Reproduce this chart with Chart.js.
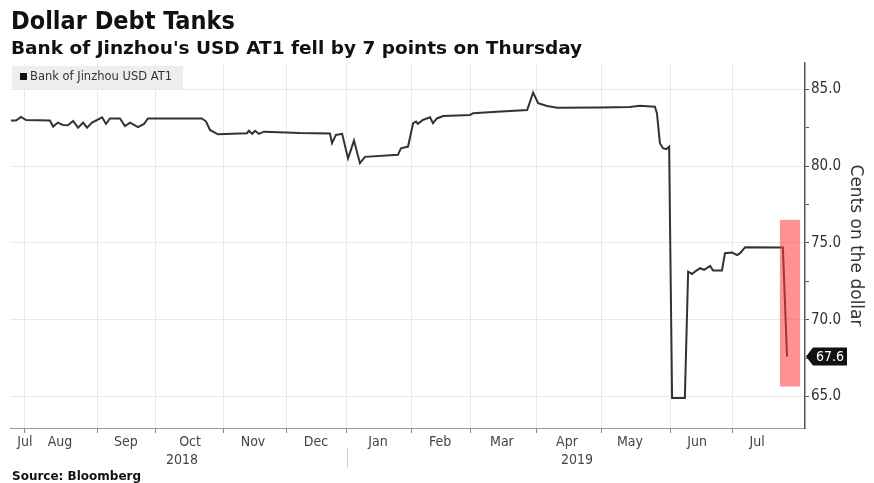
<!DOCTYPE html>
<html><head><meta charset="utf-8">
<script src="https://cdn.jsdelivr.net/npm/chart.js@4.4.1/dist/chart.umd.min.js"></script>
<style>html,body{margin:0;padding:0;background:#fff;overflow:hidden}#wrap{width:874px;height:483px;position:relative}</style>
</head><body><div id="wrap"><canvas id="c" width="874" height="483"></canvas></div>
<script>
// ---- data (x = trading-day index, 0 = 1 Aug 2018) ----
const seriesName = 'Bank of Jinzhou USD AT1';
const tradingDay = [-5.4,-3.7,-2.0,-0.3,7.7,8.8,10.4,12.1,13.8,15.5,17.2,18.9,20.2,21.9,23.6,25.3,26.6,27.9,31.3,33.0,34.7,37.4,39.4,40.7,58.9,60.3,61.6,64.3,74.1,74.7,75.8,76.8,78.1,79.8,91.9,102.0,102.7,104.0,106.1,108.1,110.1,112.1,113.8,124.9,125.9,128.3,130.0,131.0,131.6,133.3,135.7,136.7,138.0,140.1,149.2,150.2,158.2,168.4,170.4,172.1,175.1,178.5,192.9,203.0,206.4,211.4,212.1,213.1,214.1,215.2,216.2,217.2,221.5,222.6,223.9,224.9,226.6,228.0,230.0,231.0,234.0,235.0,237.4,239.1,240.1,241.8,254.5,255.9];
const price = [82.96,82.96,83.2,83.0,82.96,82.57,82.83,82.68,82.66,82.94,82.5,82.83,82.5,82.83,83.0,83.18,82.74,83.1,83.1,82.6,82.83,82.53,82.74,83.1,83.1,82.9,82.35,82.07,82.14,82.3,82.1,82.3,82.1,82.24,82.15,82.12,81.49,82.03,82.1,80.5,81.66,80.19,80.6,80.73,81.16,81.27,82.79,82.9,82.75,83.0,83.18,82.79,83.1,83.26,83.33,83.44,83.54,83.65,84.78,84.09,83.91,83.8,83.82,83.85,83.92,83.87,83.44,81.49,81.16,81.1,81.27,64.9,64.9,73.13,72.98,73.13,73.35,73.25,73.5,73.2,73.2,74.33,74.37,74.2,74.33,74.72,74.7,67.6];
const monthStarts = [-1.0,23.6,43.4,66.3,87.5,107.7,129.3,149.2,171.7,193.6,216.5,237.7];
const monthLabelPos = [-0.7,11.1,33.3,54.9,76.1,97.3,118.2,139.1,159.9,181.8,203.0,225.6,245.8];
const monthLabels = ['Jul','Aug','Sep','Oct','Nov','Dec','Jan','Feb','Mar','Apr','May','Jun','Jul'];
const yearPos = [52.2, 185.2];
const yearLabels = ['2018','2019'];
const yearBreak = 107.7;
const yTicks = [65,67.5,70,72.5,75,77.5,80,82.5,85];
const xRange = [-5.72, 261.95];
const yRange = [62.95, 86.71];
const highlightX = [253.5, 260.3];
const highlightY = [65.65, 76.5];
const lastValue = 67.6;

const FONT = '"DejaVu Sans", Verdana, sans-serif';
const COND = '"DejaVu Sans Condensed", "DejaVu Sans", sans-serif';

const decor = {
  id: 'decor',
  beforeDraw(chart) {
    const c = chart.ctx; c.save(); c.fillStyle = '#fff'; c.fillRect(0, 0, chart.width, chart.height); c.restore();
  },
  beforeDatasetsDraw(chart) {
    const c = chart.ctx; c.save();
    c.fillStyle = '#eeeeee'; c.fillRect(12, 66, 171, 23);
    c.fillStyle = '#111'; c.fillRect(20, 73, 7, 7);
    c.fillStyle = '#333'; c.font = '11.5px ' + FONT; c.textBaseline = 'middle'; c.textAlign = 'left';
    c.fillText(seriesName, 30, 77);
    c.restore();
  },
  afterDatasetsDraw(chart) {
    const c = chart.ctx, xs = chart.scales.x, ys = chart.scales.y; c.save();
    const x0 = xs.getPixelForValue(highlightX[0]), x1 = xs.getPixelForValue(highlightX[1]);
    const y0 = ys.getPixelForValue(highlightY[1]), y1 = ys.getPixelForValue(highlightY[0]);
    c.fillStyle = 'rgba(255,55,55,0.55)'; c.fillRect(x0, y0, x1 - x0, y1 - y0);
    const yv = ys.getPixelForValue(lastValue), ax = chart.chartArea.right + 1;
    c.fillStyle = '#111'; c.beginPath();
    c.moveTo(ax, yv); c.lineTo(ax + 7, yv - 9); c.lineTo(ax + 41, yv - 9); c.lineTo(ax + 41, yv + 9); c.lineTo(ax + 7, yv + 9); c.closePath(); c.fill();
    c.fillStyle = '#fff'; c.font = '14px ' + COND; c.textAlign = 'center'; c.textBaseline = 'middle';
    c.fillText(lastValue.toFixed(1), ax + 24, yv + 1);
    c.restore();
  },
  afterDraw(chart) {
    const c = chart.ctx; c.save();
    c.fillStyle = '#111'; c.textAlign = 'left'; c.textBaseline = 'alphabetic';
    c.font = 'bold 25px ' + COND; c.fillText('Dollar Debt Tanks', 11, 29);
    c.font = 'bold 18.5px ' + FONT; c.fillText("Bank of Jinzhou's USD AT1 fell by 7 points on Thursday", 11, 54);
    c.font = 'bold 12px ' + FONT; c.fillText('Source: Bloomberg', 12, 480);
    const bx = Math.round(chart.scales.x.getPixelForValue(yearBreak)) + 0.5;
    c.strokeStyle = '#d0d0d0'; c.lineWidth = 1; c.beginPath(); c.moveTo(bx, 448); c.lineTo(bx, 468); c.stroke();
    c.restore();
  }
};

new Chart(document.getElementById('c'), {
  type: 'line',
  data: { datasets: [{
    label: seriesName,
    data: tradingDay.map((d, i) => ({ x: d, y: price[i] })),
    borderColor: '#333', borderWidth: 2, pointRadius: 0, fill: false, tension: 0,
    xAxisID: 'x', yAxisID: 'y'
  }]},
  options: {
    responsive: false, animation: false, devicePixelRatio: 1,
    layout: { padding: { top: 63, left: 10, right: 0, bottom: 0 } },
    plugins: { legend: { display: false }, tooltip: { enabled: false }, title: { display: false } },
    scales: {
      x: {
        type: 'linear', axis: 'x', position: 'bottom', weight: 0, min: xRange[0], max: xRange[1],
        afterBuildTicks: s => { s.ticks = monthStarts.map(v => ({ value: v })); },
        afterFit: s => { s.height = 6; },
        ticks: { callback: () => '', autoSkip: false, maxRotation: 0, padding: 0 },
        grid: { color: '#e9e9e9', lineWidth: 1, drawTicks: true, tickLength: 5, tickColor: '#888', tickWidth: 1 },
        border: { display: true, color: '#999', width: 1 }
      },
      xm: {
        type: 'linear', axis: 'x', position: 'bottom', weight: 1, min: xRange[0], max: xRange[1],
        afterBuildTicks: s => { s.ticks = monthLabelPos.map(v => ({ value: v })); },
        afterFit: s => { s.height = 18; },
        ticks: { callback: (v, i) => monthLabels[i], autoSkip: false, maxRotation: 0, padding: 0, color: '#444', font: { family: COND, size: 14 } },
        grid: { display: false, drawTicks: false }, border: { display: false }
      },
      xy: {
        type: 'linear', axis: 'x', position: 'bottom', weight: 2, min: xRange[0], max: xRange[1],
        afterBuildTicks: s => { s.ticks = yearPos.map(v => ({ value: v })); },
        afterFit: s => { s.height = 31; },
        ticks: { callback: (v, i) => yearLabels[i], autoSkip: false, maxRotation: 0, padding: 0, color: '#444', font: { family: COND, size: 14 } },
        grid: { display: false, drawTicks: false }, border: { display: false }
      },
      y: {
        type: 'linear', position: 'right', min: yRange[0], max: yRange[1],
        afterBuildTicks: s => { s.ticks = yTicks.map(v => ({ value: v })); },
        afterFit: s => { s.width = 69; },
        ticks: { callback: v => (v % 5 === 0 ? v.toFixed(1) : ''), autoSkip: false, padding: 2, color: '#333', font: { family: COND, size: 15 } },
        grid: { color: ctx => (ctx.tick && ctx.tick.value % 5 === 0 ? '#e9e9e9' : 'rgba(0,0,0,0)'), drawTicks: true, tickLength: 4, tickColor: '#555', tickWidth: 1 },
        border: { display: true, color: '#555', width: 1.5 },
        title: { display: true, text: 'Cents on the dollar', color: '#333', font: { family: FONT, size: 17 }, padding: { top: 8, bottom: 0 } }
      }
    }
  },
  plugins: [decor]
});
</script>
</body></html>
